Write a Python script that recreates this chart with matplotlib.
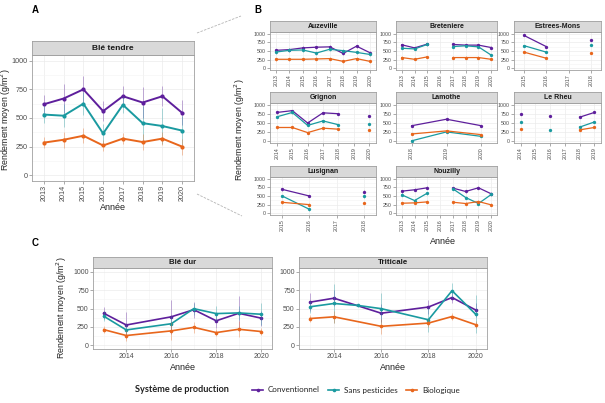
import matplotlib
matplotlib.use("Agg")
import matplotlib.pyplot as plt
import numpy as np
from matplotlib.lines import Line2D

plt.rcParams.update({
    "font.family": ["Liberation Sans", "DejaVu Sans"],
    "axes.linewidth": 0.6,
})

W, H = 605, 403
NA = np.nan

C_CONV = "#5e1f9c"
C_SANS = "#1a9aa0"
C_BIO = "#e8661c"
GRID = "#ebebeb"
BORDER = "#a0a0a0"
TXT = "#4d4d4d"

# ---- panel A : Blé tendre
A_YEARS = [2013, 2014, 2015, 2016, 2017, 2018, 2019, 2020]
A_CONV = [620, 670, 750, 560, 690, 635, 690, 545]
A_SANS = [530, 520, 625, 365, 615, 455, 430, 390]
A_BIO = [285, 310, 345, 260, 320, 290, 320, 250]
A_CONV_ERR = [80, 130, 118, 90, 92, 138, 89, 108]
A_SANS_ERR = [72, 100, 100, 85, 70, 150, 155, 130]
A_BIO_ERR = [50, 70, 65, 45, 50, 70, 55, 70]

# ---- panel B : by site
B_SITES = ["Auzeville", "Breteniere", "Estrees-Mons", "Grignon", "Lamothe",
           "Le Rheu", "Lusignan", "Nouzilly"]
B_YEARS = {
    "Auzeville": [2013, 2014, 2015, 2016, 2017, 2018, 2019, 2020],
    "Breteniere": [2013, 2014, 2015, 2016, 2017, 2018, 2019, 2020],
    "Estrees-Mons": [2015, 2016, 2017, 2018],
    "Grignon": [2014, 2015, 2016, 2017, 2018, 2019, 2020],
    "Lamothe": [2018, 2019, 2020],
    "Le Rheu": [2014, 2015, 2016, 2017, 2018, 2019],
    "Lusignan": [2015, 2016, 2017, 2018],
    "Nouzilly": [2013, 2014, 2015, 2016, 2017, 2018, 2019, 2020],
}
B_CONV = {
    "Auzeville": [520, 540, 590, 610, 620, 430, 640, 450],
    "Breteniere": [680, 590, 700, NA, 690, 670, 670, 600],
    "Estrees-Mons": [950, 626, NA, 830],
    "Grignon": [790, 840, 500, 780, 755, NA, 698],
    "Lamothe": [425, 604, 425],
    "Le Rheu": [745, NA, 680, NA, 660, 790],
    "Lusignan": [692, 500, NA, 625],
    "Nouzilly": [640, 680, 738, NA, 728, 631, 738, 563],
}
B_SANS = {
    "Auzeville": [470, 520, 530, 440, 550, 510, 460, 400],
    "Breteniere": [580, 560, 690, NA, 630, 650, 620, 380],
    "Estrees-Mons": [654, 467, NA, 673],
    "Grignon": [670, 790, 434, 557, 453, NA, 462],
    "Lamothe": [10, 255, 132],
    "Le Rheu": [519, NA, 311, NA, 387, 528],
    "Lusignan": [500, 115, NA, 490],
    "Nouzilly": [534, 369, 583, NA, 708, 456, 282, 544],
}
B_BIO = {
    "Auzeville": [260, 260, 260, 270, 280, 200, 280, 200],
    "Breteniere": [310, 260, 330, NA, 310, 310, 310, 260],
    "Estrees-Mons": [467, 290, NA, 440],
    "Grignon": [377, 377, 236, 358, 330, NA, 302],
    "Lamothe": [198, 283, 180],
    "Le Rheu": [340, NA, NA, NA, 311, 377],
    "Lusignan": [317, 250, NA, 298],
    "Nouzilly": [291, 301, 330, NA, 320, 282, 340, 243],
}
B_ERR = {"Auzeville": 45, "Breteniere": 35, "Estrees-Mons": 20, "Grignon": 30,
         "Lamothe": 20, "Le Rheu": 20, "Lusignan": 40, "Nouzilly": 40}

# ---- panel C : Blé dur / Triticale
DUR_YEARS = [2013, 2014, 2016, 2017, 2018, 2019, 2020]
DUR_CONV = [435, 276, 387, 484, 333, 435, 369]
DUR_SANS = [395, 209, 293, 498, 431, 440, 422]
DUR_BIO = [213, 133, 196, 244, 173, 218, 187]
DUR_CONV_ERR = [80, 180, 230, 110, 100, 240, 100]
DUR_SANS_ERR = [70, 80, 100, 80, 100, 100, 150]
DUR_BIO_ERR = [50, 80, 120, 70, 50, 110, 50]

TRI_YEARS_CB = [2013, 2014, 2016, 2018, 2019, 2020]
TRI_YEARS_S = [2013, 2014, 2015, 2016, 2018, 2019, 2020]
TRI_CONV = [587, 640, 436, 520, 649, 480]
TRI_SANS = [524, 568, 542, 498, 347, 742, 422]
TRI_BIO = [364, 387, 258, 302, 391, 280]
TRI_CONV_ERR = [120, 110, 120, 90, 70, 90]
TRI_SANS_ERR = [80, 270, 25, 210, 160, 105, 260]
TRI_BIO_ERR = [50, 80, 100, 50, 50, 50]

LEGEND_LABELS = ["Conventionnel", "Sans pesticides", "Biologique"]
YTICKS = [0, 250, 500, 750, 1000]


def px_axes(fig, x0, y0, x1, y1):
    return fig.add_axes([x0 / W, 1 - y1 / H, (x1 - x0) / W, (y1 - y0) / H])


def add_strip(fig, x0, y0, x1, y1, title, fs):
    sa = px_axes(fig, x0, y0, x1, y1)
    sa.set_facecolor("#d9d9d9")
    sa.set_xticks([])
    sa.set_yticks([])
    for s in sa.spines.values():
        s.set_color(BORDER)
        s.set_linewidth(0.6)
    sa.text(0.5, 0.5, title, ha="center", va="center", fontsize=fs,
            fontweight="bold", color="#1a1a1a", transform=sa.transAxes)


def style(ax, fs):
    ax.set_facecolor("white")
    for s in ax.spines.values():
        s.set_color(BORDER)
        s.set_linewidth(0.6)
    ax.grid(True, which="major", color=GRID, lw=0.5)
    ax.grid(True, which="minor", color="#f4f4f4", lw=0.4)
    ax.set_axisbelow(True)
    ax.tick_params(which="major", length=2, width=0.5, color="#888888",
                   labelsize=fs, labelcolor=TXT, pad=1)
    ax.tick_params(which="minor", length=0)
    ax.set_ylim(-50, 1050)
    ax.set_yticks(YTICKS)
    ax.set_yticks([125, 375, 625, 875], minor=True)


def series(ax, x, y, err, color, lw, ms):
    ax.errorbar(x, y, yerr=err, fmt="none", ecolor=color, elinewidth=0.5,
                alpha=0.5, capsize=0)
    ax.plot(x, y, color=color, lw=lw, marker="o", ms=ms, mew=0)


fig = plt.figure(figsize=(W / 100, H / 100), dpi=100)
fig.patch.set_facecolor("white")

# ---------------- A
axA = px_axes(fig, 32, 55, 194, 181)
style(axA, 5.2)
series(axA, A_YEARS, A_CONV, A_CONV_ERR, C_CONV, 1.4, 3)
series(axA, A_YEARS, A_SANS, A_SANS_ERR, C_SANS, 1.4, 3)
series(axA, A_YEARS, A_BIO, A_BIO_ERR, C_BIO, 1.4, 3)
axA.set_xlim(A_YEARS[0] - 0.6, A_YEARS[-1] + 0.6)
axA.set_xticks(A_YEARS)
axA.set_xticklabels([str(y) for y in A_YEARS], rotation=90)
add_strip(fig, 32, 41, 194, 55, "Blé tendre", 6)
fig.text(35 / W, 1 - 10 / H, "A", fontsize=7, fontweight="bold", ha="center", va="center")
fig.text(113 / W, 1 - 208 / H, "Année", fontsize=6.5, color="#222222", ha="center", va="center")
fig.text(6 / W, 1 - 120 / H, "Rendement moyen (g/m$^2$)", fontsize=6.3, color="#222222",
         rotation=90, ha="center", va="center")

# ---------------- B
cols = [(270, 376), (396, 497), (514, 601)]
rows = [(21, 32, 70), (92, 103, 143), (166, 177, 215)]
for i, site in enumerate(B_SITES):
    r, c = divmod(i, 3)
    x0, x1 = cols[c]
    s0, y0, y1 = rows[r]
    ax = px_axes(fig, x0, y0, x1, y1)
    style(ax, 3.8)
    yrs = B_YEARS[site]
    e = B_ERR[site]
    series(ax, yrs, B_CONV[site], e, C_CONV, 0.9, 2.4)
    series(ax, yrs, B_SANS[site], e, C_SANS, 0.9, 2.4)
    series(ax, yrs, B_BIO[site], e, C_BIO, 0.9, 2.4)
    ax.set_xlim(yrs[0] - 0.45, yrs[-1] + 0.45)
    ax.set_xticks(yrs)
    ax.set_xticklabels([str(y) for y in yrs], rotation=90)
    add_strip(fig, x0, s0, x1, y0, site, 5)
fig.text(258 / W, 1 - 10 / H, "B", fontsize=7, fontweight="bold", ha="center", va="center")
fig.text(443 / W, 1 - 242 / H, "Année", fontsize=6.5, color="#222222", ha="center", va="center")
fig.text(240 / W, 1 - 130 / H, "Rendement moyen (g/m$^2$)", fontsize=6.3, color="#222222",
         rotation=90, ha="center", va="center")

# ---------------- C
for (x0, x1, title, data) in [
    (93, 272, "Blé dur",
     [(DUR_YEARS, DUR_CONV, DUR_CONV_ERR, C_CONV), (DUR_YEARS, DUR_SANS, DUR_SANS_ERR, C_SANS),
      (DUR_YEARS, DUR_BIO, DUR_BIO_ERR, C_BIO)]),
    (299, 487, "Triticale",
     [(TRI_YEARS_CB, TRI_CONV, TRI_CONV_ERR, C_CONV), (TRI_YEARS_S, TRI_SANS, TRI_SANS_ERR, C_SANS),
      (TRI_YEARS_CB, TRI_BIO, TRI_BIO_ERR, C_BIO)]),
]:
    ax = px_axes(fig, x0, 268, x1, 349)
    style(ax, 5)
    for yrs, vals, err, col in data:
        series(ax, yrs, vals, err, col, 1.2, 2.6)
    ax.set_xlim(2012.52, 2020.48)
    ax.set_xticks([2014, 2016, 2018, 2020])
    ax.set_xticks([2013, 2015, 2017, 2019], minor=True)
    add_strip(fig, x0, 257, x1, 268, title, 5.7)
    fig.text((x0 + x1) / 2 / W, 1 - 367 / H, "Année", fontsize=6.5, color="#222222",
             ha="center", va="center")
fig.text(35 / W, 1 - 243 / H, "C", fontsize=7, fontweight="bold", ha="center", va="center")
fig.text(62 / W, 1 - 308 / H, "Rendement moyen (g/m$^2$)", fontsize=6.3, color="#222222",
         rotation=90, ha="center", va="center")

# ---------------- connectors A -> B
for (xa, ya, xb, yb) in [(197, 33, 241, 16), (197, 194, 242, 216)]:
    fig.add_artist(Line2D([xa / W, xb / W], [1 - ya / H, 1 - yb / H], transform=fig.transFigure,
                          color="#b5b5b5", lw=0.6, ls=(0, (3, 1.5))))

# ---------------- legend
fig.text(135 / W, 1 - 390 / H, "Système de production", fontsize=6.6, fontweight="bold",
         family="Lato", ha="left", va="center", color="#222222")
handles = [Line2D([], [], color=c, lw=1.2, marker="o", ms=2.6, mew=0)
           for c in (C_CONV, C_SANS, C_BIO)]
leg = fig.legend(handles, LEGEND_LABELS, loc="center left", bbox_to_anchor=(252 / W, 1 - 390 / H),
                 ncol=3, frameon=False, handlelength=1.4, handletextpad=0.6, columnspacing=1.0,
                 borderaxespad=0, borderpad=0, prop={"family": "Lato", "size": 5.8})
for t in leg.get_texts():
    t.set_color("#222222")

fig.savefig("out.png", dpi=100, facecolor="white")
